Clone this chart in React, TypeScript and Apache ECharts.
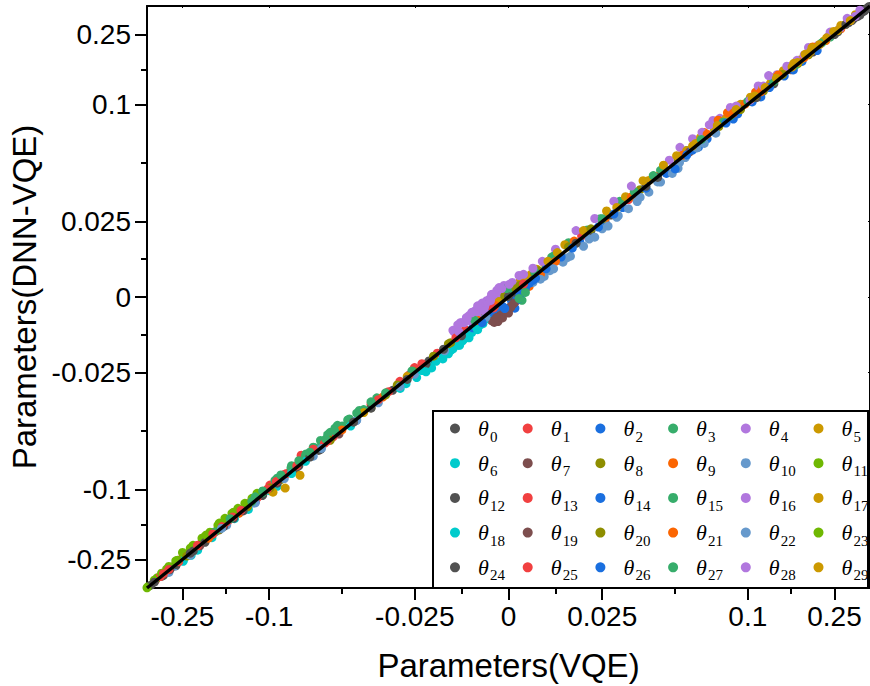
import React, { useEffect, useRef } from 'react';
import * as echarts from 'echarts';

// Axis scale: value -> normalized axis position (symmetric, log-like away from zero)
const SCALE_VALUES = [0, 0.0125, 0.025, 0.05, 0.1, 0.15, 0.25, 0.362];
const SCALE_POS = [0, 0.13, 0.2592, 0.461, 0.662, 0.782, 0.9018, 1.0];

function toScale(v: number): number {
  const s = v < 0 ? -1 : 1;
  const a = Math.abs(v);
  const n = SCALE_VALUES.length;
  for (let i = 1; i < n; i++) {
    if (a <= SCALE_VALUES[i]) {
      const t = (a - SCALE_VALUES[i - 1]) / (SCALE_VALUES[i] - SCALE_VALUES[i - 1]);
      return s * (SCALE_POS[i - 1] + t * (SCALE_POS[i] - SCALE_POS[i - 1]));
    }
  }
  const slope = (SCALE_POS[n - 1] - SCALE_POS[n - 2]) / (SCALE_VALUES[n - 1] - SCALE_VALUES[n - 2]);
  return s * (SCALE_POS[n - 1] + (a - SCALE_VALUES[n - 1]) * slope);
}

const majorTicks = [-0.25, -0.1, -0.025, 0, 0.025, 0.1, 0.25];
const majorLabels = ['-0.25', '-0.1', '-0.025', '0', '0.025', '0.1', '0.25'];
const minorTicks = [-0.15, -0.05, -0.0125, 0.0125, 0.05, 0.15];

const palette = ['#515151', '#F14040', '#1A6FDF', '#37AD6B', '#B177DE', '#CC9900',
  '#00CBCC', '#7D4E4E', '#8E8E00', '#FB6501', '#6699CC', '#6FB802'];

const identityLine = [-0.362, 0.362];

// [VQE, DNN-VQE] pairs for each parameter θ0..θ29
const thetaData: number[][][] = [
  /* θ0 */ [[0.355, 0.356], [0.345, 0.343], [0.335, 0.337], [0.322, 0.32], [0.31, 0.312], [0.295, 0.297], [-0.31, -0.312], [-0.185, -0.186], [-0.066, -0.0665], [-0.011, -0.0112],
    [-0.271, -0.2749], [-0.165, -0.165], [-0.116, -0.1174], [-0.0796, -0.0796], [-0.0326, -0.0326], [-0.0212, -0.0212], [-0.008, -0.008], [0.022, 0.022], [0.35, 0.35], [0.36, 0.36]],
  /* θ1 */ [[-0.335, -0.331], [-0.285, -0.281], [-0.24, -0.236], [-0.205, -0.201], [-0.172, -0.169], [-0.148, -0.146], [-0.125, -0.122], [-0.078, -0.0705], [-0.07, -0.067], [-0.043, -0.0418], [-0.019, -0.0186],
    [-0.2485, -0.2399], [-0.182, -0.1734], [-0.124, -0.1197], [-0.0896, -0.087], [-0.04, -0.0387], [-0.0301, -0.0288], [-0.0251, -0.0234], [-0.0115, -0.0108], [0.0195, 0.0202]],
  /* θ2 */ [[-0.004, -0.0067], [-0.002, -0.0048], [0.0017, -0.0037], [0.005, 0.0038], [0.011, 0.0102], [0.019, 0.0182], [0.032, 0.031], [0.047, 0.0455], [0.072, 0.0705], [0.105, 0.1035], [0.175, 0.173],
    [-0.005, -0.007], [-0.003, -0.006], [0.0012, -0.0034], [0.0135, 0.0122], [0.026, 0.0247], [0.066, 0.0634], [0.09, 0.0874]],
  /* θ3 */ [[-0.064, -0.059], [-0.058, -0.051], [-0.053, -0.0475], [-0.048, -0.0452], [-0.044, -0.0412], [-0.038, -0.0358], [-0.0015, 0.0022], [0.0036, -0.0011], [0.021, 0.0222], [0.088, 0.0902], [-0.22, -0.214],
    [-0.0746, -0.0695], [-0.0697, -0.0637], [-0.0647, -0.0579], [-0.0547, -0.0487], [-0.0474, -0.0448], [-0.006, -0.0043], [-0.003, -0.0004], [0.0115, 0.0132], [0.016, 0.018], [0.058, 0.0606]],
  /* θ4 */ [[-0.0148, -0.011], [-0.0125, -0.0085], [-0.0105, -0.0062], [-0.0085, -0.0042], [-0.0068, -0.0024], [-0.005, -0.0006], [-0.0031, 0.0022], [0.0533, 0.0633], [0.0808, 0.0881], [0.1336, 0.1425], [0.2119, 0.2193],
    [-0.0138, -0.0118], [-0.0118, -0.0085], [-0.0096, -0.005], [-0.0078, -0.0052], [-0.0062, -0.0022], [-0.0044, 0.0009], [-0.0026, 0.0014], [-0.0012, 0.0038], [0.0125, 0.0158], [0.018, 0.022], [0.062, 0.0706], [0.076, 0.0863], [0.19, 0.213]],
  /* θ5 */ [[0.006, 0.0075], [0.0095, 0.0112], [0.058, 0.0605], [0.07, 0.0725], [0.085, 0.0878], [0.097, 0.1], [0.112, 0.1155], [0.126, 0.13], [0.145, 0.1495], [0.172, 0.178], [0.205, 0.212], [0.245, 0.251], [0.285, 0.29],
    [0.003, 0.005], [0.0048, 0.0065], [0.015, 0.0173], [0.02, 0.022], [0.0675, 0.0718], [0.082, 0.0854], [0.095, 0.1001], [0.103, 0.1102], [0.316, 0.3278]],
  /* θ6 */ [[-0.248, -0.252], [-0.1, -0.1015], [-0.03, -0.0318], [-0.0245, -0.0272], [-0.0205, -0.0235], [-0.0175, -0.0205], [-0.0148, -0.0172], [-0.0122, -0.0145], [-0.0098, -0.0118], [-0.0075, -0.0092],
    [-0.2485, -0.2571], [-0.182, -0.1877], [-0.0945, -0.0971], [-0.0193, -0.0213], [-0.0154, -0.0177], [-0.0212, -0.0229], [-0.0142, -0.0159], [-0.0118, -0.0138], [-0.0105, -0.0135], [-0.0091, -0.0108]],
  /* θ7 */ [[-0.0035, -0.0075], [-0.003, -0.0068], [-0.0022, -0.0062], [-0.0014, -0.0055], [-0.0006, -0.0046], [0.0002, -0.0036], [0.001, -0.0026], [0.0018, -0.0016], [-0.052, -0.0525], [0.06, 0.0595],
    [-0.0045, -0.0078], [-0.0038, -0.0084], [-0.0028, -0.0081], [-0.0016, -0.0069]],
  /* θ8 */ [[-0.165, -0.164], [-0.092, -0.0915], [-0.031, -0.0303], [-0.016, -0.0155], [-0.006, -0.0055], [0.007, 0.0076], [0.016, 0.0166], [0.038, 0.0386], [0.066, 0.0668], [0.118, 0.119], [0.19, 0.192],
    [-0.271, -0.2671], [-0.141, -0.1396], [-0.04, -0.04], [-0.0251, -0.0248], [-0.0045, -0.0035], [0.08, 0.0809]],
  /* θ9 */ [[-0.135, -0.134], [-0.036, -0.0355], [0.0035, 0.0025], [0.009, 0.0082], [0.026, 0.0262], [0.0796, 0.0865], [0.098, 0.1002], [0.122, 0.1245], [0.158, 0.1615], [0.23, 0.233], [0.27, 0.2725],
    [0.0015, 0.0002], [0.0055, 0.0035], [0.0175, 0.0185], [0.032, 0.0337], [0.07, 0.076], [0.086, 0.0929], [0.109, 0.1176]],
  /* θ10 */ [[-0.275, -0.276], [-0.118, -0.1192], [-0.045, -0.0455], [0.0095, 0.0068], [0.0145, 0.0115], [0.02, 0.0168], [0.027, 0.0235], [0.034, 0.0305], [0.041, 0.0375], [0.049, 0.0455], [0.057, 0.0545],
    [-0.293, -0.3008], [-0.149, -0.1519], [-0.0896, -0.0905], [-0.0375, -0.0379], [-0.0251, -0.0258], [0.0065, 0.0048], [0.011, 0.0087], [0.0155, 0.0129], [0.0215, 0.0192], [0.025, 0.0226], [0.07, 0.0666]],
  /* θ11 */ [[-0.358, -0.356], [-0.33, -0.322], [-0.3, -0.288], [-0.25, -0.23], [-0.2257, -0.2095], [-0.205, -0.189], [-0.1866, -0.172], [-0.1682, -0.1523],
    [-0.232, -0.2176], [-0.198, -0.1837], [-0.165, -0.1478], [-0.141, -0.1324]],
  /* θ12 */ [[-0.35, -0.351], [-0.27, -0.27], [-0.155, -0.1555], [-0.108, -0.1085], [-0.082, -0.0825], [-0.04, -0.0402], [-0.022, -0.0222], [0.028, 0.0278], [0.13, 0.1295], [0.2, 0.2],
    [-0.316, -0.316], [-0.198, -0.2009], [-0.1075, -0.1075], [-0.0647, -0.0656], [0.0015, 0.0015], [0.33, 0.3261], [0.305, 0.305]],
  /* θ13 */ [[-0.32, -0.317], [-0.262, -0.259], [-0.19, -0.187], [-0.158, -0.155], [-0.114, -0.112], [-0.088, -0.0862], [-0.062, -0.0605], [-0.056, -0.0548], [-0.034, -0.0332], [-0.027, -0.0262],
    [-0.215, -0.2093], [-0.149, -0.1461], [-0.0995, -0.0961], [-0.0746, -0.072], [-0.0375, -0.0366], [-0.0231, -0.0221], [-0.005, -0.0047], [0.034, 0.0344]],
  /* θ14 */ [[-0.0095, -0.0102], [-0.0045, -0.0055], [0.0008, -0.0012], [0.0045, 0.0028], [0.008, 0.007], [0.014, 0.0132], [0.024, 0.0232], [0.04, 0.0392], [0.062, 0.061], [0.093, 0.0918], [0.142, 0.1405],
    [0.0025, -0.0008], [0.0038, 0.0015], [0.0055, 0.0045], [0.037, 0.0353], [0.115, 0.1107]],
  /* θ15 */ [[-0.175, -0.171], [-0.108, -0.1045], [-0.096, -0.092], [-0.085, -0.0815], [-0.075, -0.0712], [-0.068, -0.0645], [-0.026, -0.0245], [0.012, 0.0135], [0.045, 0.0468], [0.077, 0.0792], [0.24, 0.243],
    [-0.0945, -0.0902], [-0.0846, -0.0795], [-0.0597, -0.0529], [-0.0499, -0.0478], [-0.0425, -0.0408], [0.0005, 0.0025], [0.0245, 0.0262], [0.031, 0.0336], [0.083, 0.0847], [0.1, 0.1043]],
  /* θ16 */ [[-0.0112, -0.0068], [-0.0092, -0.0048], [-0.0058, -0.0012], [-0.0042, 0.0004], [-0.002, 0.0024], [0.001, 0.0048], [0.004, 0.0075], [0.0685, 0.0761], [0.1025, 0.1058], [0.1634, 0.1762], [0.2673, 0.2746], [0.315, 0.321],
    [-0.0145, -0.0115], [-0.0128, -0.0085], [-0.0102, -0.0079], [-0.0088, -0.0052], [-0.007, -0.002], [-0.0054, -0.0024], [-0.0036, -0.0013], [-0.0008, 0.0022], [0.023, 0.0263], [0.029, 0.0337], [0.088, 0.0974], [0.112, 0.1263], [0.24, 0.26]],
  /* θ17 */ [[-0.089, -0.0987], [-0.0788, -0.0877], [-0.0974, -0.1037], [0.03, 0.031], [0.041, 0.0425], [0.053, 0.0555], [0.064, 0.0665], [0.077, 0.0798], [0.105, 0.109], [0.138, 0.142], [0.188, 0.194], [0.225, 0.231],
    [-0.0425, -0.0421], [-0.0276, -0.0267], [-0.0025, -0.0015], [0.0075, 0.0092], [0.0265, 0.0295], [0.033, 0.0356], [0.117, 0.1227], [0.129, 0.1376], [0.141, 0.1482], [0.27, 0.2857]],
  /* θ18 */ [[-0.23, -0.238], [-0.14, -0.1415], [-0.075, -0.0758], [-0.047, -0.0478], [-0.028, -0.0298], [-0.022, -0.0248], [-0.016, -0.0188], [-0.0135, -0.016], [-0.011, -0.0132], [-0.0085, -0.0102],
    [-0.215, -0.2236], [-0.124, -0.1283], [-0.0846, -0.0863], [-0.0231, -0.0244], [-0.0173, -0.0193], [-0.0125, -0.0142], [-0.0082, -0.0108], [-0.0068, -0.0088], [-0.0058, -0.0071], [-0.013, -0.016]],
  /* θ19 */ [[-0.0042, -0.0079], [-0.0026, -0.0066], [-0.0018, -0.0058], [-0.001, -0.005], [-0.0002, -0.004], [0.0006, -0.0031], [0.0014, -0.0021], [-0.21, -0.211], [0.15, 0.1495],
    [-0.0005, -0.0051], [0.0006, -0.0034], [-0.0032, -0.0068], [0.0, -0.0053]],
  /* θ20 */ [[-0.24, -0.2405], [-0.125, -0.1245], [-0.058, -0.0578], [-0.02, -0.0196], [-0.001, 0.0003], [0.003, 0.0038], [0.022, 0.0226], [0.052, 0.0528], [0.095, 0.0955], [0.165, 0.1665],
    [-0.182, -0.1791], [-0.0995, -0.0986], [-0.035, -0.0346], [-0.0154, -0.0151], [0.002, 0.0027], [0.008, 0.0087], [0.14, 0.1429]],
  /* θ21 */ [[-0.19, -0.189], [-0.05, -0.0495], [-0.008, -0.0078], [0.0125, 0.0118], [0.035, 0.0355], [0.055, 0.0565], [0.072, 0.0745], [0.09, 0.0925], [0.115, 0.118], [0.18, 0.184], [0.25, 0.254],
    [-0.0035, -0.0028], [0.0085, 0.0075], [0.043, 0.0443], [0.135, 0.1422], [0.2, 0.2144]],
  /* θ22 */ [[-0.16, -0.161], [-0.064, -0.0648], [-0.017, -0.0178], [0.012, 0.0093], [0.0165, 0.0135], [0.023, 0.0198], [0.03, 0.0268], [0.037, 0.0335], [0.045, 0.0418], [0.053, 0.0502], [0.065, 0.0628],
    [-0.232, -0.2377], [-0.116, -0.1189], [-0.0697, -0.0714], [-0.0449, -0.0453], [-0.0301, -0.031], [-0.006, -0.0067], [0.0085, 0.0059], [0.0305, 0.0275], [0.038, 0.0354], [0.044, 0.0419], [0.052, 0.0477], [0.078, 0.0754]],
  /* θ23 */ [[-0.362, -0.361], [-0.152, -0.141], [-0.1429, -0.1339], [-0.136, -0.1267], [-0.128, -0.1196], [-0.1198, -0.1124], [-0.114, -0.1053], [-0.265, -0.253], [-0.195, -0.18],
    [-0.3392, -0.3312], [-0.316, -0.3042], [-0.293, -0.2773], [-0.271, -0.2553]],
  /* θ24 */ [[-0.29, -0.29], [-0.225, -0.2255], [-0.13, -0.1305], [-0.072, -0.0722], [-0.046, -0.0462], [0.0, 0.0002], [0.018, 0.0178], [0.044, 0.0438], [0.11, 0.1095], [0.26, 0.2605], [0.34, 0.3405],
    [-0.339, -0.339], [-0.232, -0.232], [-0.141, -0.141], [-0.0945, -0.0945], [-0.0276, -0.028], [-0.0173, -0.0173], [-0.0125, -0.0128], [0.04, 0.04], [0.286, 0.29], [0.25, 0.25]],
  /* θ25 */ [[-0.31, -0.306], [-0.215, -0.211], [-0.18, -0.177], [-0.142, -0.139], [-0.102, -0.0995], [-0.095, -0.093], [-0.081, -0.0795], [-0.06, -0.0585], [-0.014, -0.0135], [-0.004, -0.0036],
    [-0.293, -0.2891], [-0.1325, -0.1296], [-0.0697, -0.0654], [0.004, 0.0043]],
  /* θ26 */ [[-0.007, -0.0085], [-0.001, -0.0038], [0.003, 0.0012], [0.0065, 0.0055], [0.01, 0.0093], [0.017, 0.0162], [0.029, 0.0282], [0.058, 0.0568], [0.085, 0.084], [0.125, 0.124],
    [-0.0015, -0.0032], [0.0072, 0.0062], [0.05, 0.0474], [0.155, 0.1493], [0.21, 0.2043]],
  /* θ27 */ [[-0.145, -0.1415], [-0.12, -0.117], [-0.092, -0.0875], [-0.072, -0.068], [-0.061, -0.0568], [-0.055, -0.0498], [-0.04, -0.0375], [-0.0005, 0.0028], [0.025, 0.0262], [0.068, 0.07], [0.16, 0.163],
    [-0.116, -0.1103], [-0.1075, -0.1018], [-0.0796, -0.0753], [-0.0449, -0.0423], [-0.035, -0.0337], [0.0028, -0.0005], [0.0045, 0.0015], [-0.009, -0.0077], [0.007, 0.0083], [0.036, 0.0377], [0.0425, 0.0446], [0.13, 0.1329], [0.22, 0.2257]],
  /* θ28 */ [[-0.0135, -0.0092], [-0.0098, -0.0052], [-0.0075, -0.0032], [-0.0045, 0.0008], [-0.0025, 0.0031], [0.0065, 0.0095], [0.009, 0.0118], [0.0735, 0.0825], [0.092, 0.0985], [0.118, 0.1262], [0.1485, 0.1585], [0.18, 0.1915], [0.235, 0.244], [0.3, 0.307],
    [-0.0132, -0.0115], [-0.011, -0.007], [-0.0082, -0.0029], [-0.0065, -0.0045], [-0.0048, -0.0012], [-0.0018, 0.0028], [0.0002, 0.0042], [0.0028, 0.0071], [0.035, 0.0401], [0.048, 0.0523], [0.124, 0.1412], [0.145, 0.1593], [0.29, 0.3135], [0.33, 0.3457]],
  /* θ29 */ [[0.062, 0.0645], [0.079, 0.082], [0.092, 0.0955], [0.108, 0.112], [0.12, 0.124], [0.133, 0.1375], [0.152, 0.157], [0.165, 0.17], [0.195, 0.2015], [0.215, 0.221], [0.26, 0.266], [0.3, 0.305],
    [0.0105, 0.0118], [0.013, 0.0147], [0.039, 0.0424], [0.046, 0.049], [0.051, 0.0561], [0.156, 0.1675], [0.182, 0.1935], [0.198, 0.2124], [0.232, 0.2406], [0.248, 0.2624]],
];

const FONT = '"Liberation Sans", Arial, sans-serif';
const SERIF = '"Liberation Serif", "Times New Roman", serif';

export default function App() {
  const ref = useRef<HTMLDivElement>(null);

  useEffect(() => {
    if (!ref.current) return;
    const chart = echarts.init(ref.current, undefined, { renderer: 'svg' });

    const majorU = majorTicks.map(toScale);
    const minorU = minorTicks.map(toScale);
    const fmt = (val: number) => {
      const i = majorU.findIndex((u) => Math.abs(u - val) < 1e-6);
      return i >= 0 ? majorLabels[i] : '';
    };
    const blackLine = { color: '#000', width: 2 };

    const mainAxis = (name: string, position: string, isY: boolean) => ({
      type: 'value',
      position,
      min: -1,
      max: 1,
      name,
      nameLocation: 'middle',
      nameGap: isY ? 104 : 61,
      nameTextStyle: { fontSize: 33, fontFamily: FONT, color: '#000' },
      axisLine: { show: true, onZero: false, lineStyle: blackLine },
      axisTick: { show: true, customValues: majorU, length: 12, inside: false, lineStyle: blackLine },
      axisLabel: { show: true, customValues: majorU, formatter: fmt, fontSize: 28, fontFamily: FONT, color: '#000', margin: isY ? 16 : 14 },
      splitLine: { show: false },
    });
    const minorAxis = (position: string) => ({
      type: 'value',
      position,
      min: -1,
      max: 1,
      axisLine: { show: false, onZero: false },
      axisTick: { show: true, customValues: minorU, length: 6, inside: false, lineStyle: blackLine },
      axisLabel: { show: false },
      splitLine: { show: false },
    });
    const frameAxis = (position: string) => ({
      type: 'value',
      position,
      min: -1,
      max: 1,
      axisLine: { show: true, onZero: false, lineStyle: blackLine },
      axisTick: { show: true, customValues: majorU, length: 2, inside: true, lineStyle: { color: '#000', width: 1 } },
      axisLabel: { show: false },
      splitLine: { show: false },
    });

    const names = thetaData.map((_, i) => 'θ' + i);

    const scatterSeries = thetaData.map((pts, i) => ({
      type: 'scatter',
      name: names[i],
      xAxisIndex: 0,
      yAxisIndex: 0,
      symbol: 'circle',
      symbolSize: 9,
      itemStyle: { color: palette[i % palette.length], opacity: 1 },
      data: pts.map((p) => [toScale(p[0]), toScale(p[1])]),
      z: 2,
    }));

    const legendText = {
      padding: [0, 0, 0, 13],
      rich: {
        t: { fontFamily: SERIF, fontStyle: 'italic', fontSize: 22, lineHeight: 24, width: 12, color: '#000' },
        s: { fontFamily: SERIF, fontSize: 15, lineHeight: 16, width: 16, padding: [16, 0, 0, 0], color: '#000' },
      },
    };
    const rowPitch = 34.7;
    const legends = [0, 1, 2, 3, 4].map((r) => ({
      data: names.slice(r * 6, r * 6 + 6),
      left: 450,
      top: 413 + r * rowPitch,
      orient: 'horizontal',
      padding: 0,
      itemWidth: 10,
      itemHeight: 10,
      itemGap: 16.7,
      icon: 'circle',
      z: 110,
      formatter: (name: string) => `{t|θ}{s|${name.slice(1)}}`,
      textStyle: legendText,
    }));

    const option: any = {
      animation: false,
      backgroundColor: '#fff',
      grid: { left: 147, right: 0, top: 6, bottom: 98, containLabel: false, outerBoundsMode: 'none' },
      xAxis: [mainAxis('Parameters(VQE)', 'bottom', false), minorAxis('bottom'), frameAxis('top')],
      yAxis: [mainAxis('Parameters(DNN-VQE)', 'left', true), minorAxis('left'), frameAxis('right')],
      legend: legends,
      graphic: [
        {
          type: 'rect',
          z: 100,
          shape: { x: 433, y: 411, width: 435, height: 177 },
          style: { fill: '#fff', stroke: '#000', lineWidth: 2 },
          silent: true,
        },
      ],
      series: [
        ...scatterSeries,
        {
          type: 'line',
          name: 'y=x',
          xAxisIndex: 0,
          yAxisIndex: 0,
          symbol: 'none',
          lineStyle: { color: '#000', width: 3.5 },
          data: identityLine.map((v) => [toScale(v), toScale(v)]),
          z: 5,
          silent: true,
        },
      ],
    };

    chart.setOption(option);
    return () => chart.dispose();
  }, []);

  return <div ref={ref} style={{ position: 'absolute', left: 0, top: 0, width: 870, height: 686 }} />;
}
